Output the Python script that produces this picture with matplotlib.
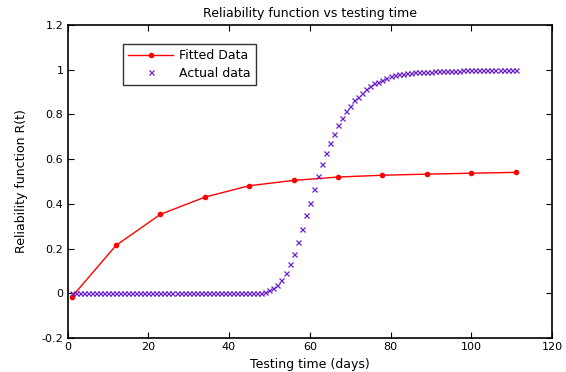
import matplotlib
matplotlib.use("Agg")
import matplotlib.pyplot as plt
import numpy as np

plt.rcParams['font.family'] = ['DejaVu Sans']

# Fitted data
fit_days = [1, 12, 23, 34, 45, 56, 67, 78, 89, 100, 111]
fit_vals = [-0.018, 0.214, 0.353, 0.430, 0.481, 0.505, 0.520, 0.528, 0.533, 0.537, 0.541]

# Actual data (one point per day, days 1..111)
act_days = list(range(1, 112))
act_early = [0.0] * 44 + [0.001, 0.001, 0.002]            # days 1..47
act_rise = [0.003, 0.007, 0.015, 0.022, 0.037, 0.058, 0.089, 0.130, 0.175,
            0.228, 0.286, 0.348, 0.404, 0.466, 0.525, 0.577, 0.626, 0.671,
            0.711, 0.751, 0.784, 0.815, 0.839, 0.863, 0.879, 0.897, 0.914,
            0.927, 0.939, 0.946, 0.955, 0.963, 0.970, 0.975, 0.981, 0.982,
            0.984]                                          # days 48..84
act_late = [0.986, 0.988, 0.989, 0.990, 0.991, 0.992, 0.993, 0.994, 0.994,
            0.995, 0.995, 0.996, 0.996, 0.997, 0.997, 0.997, 0.998, 0.998,
            0.998, 0.998, 0.999, 0.999, 0.999, 0.999, 0.999, 1.0, 1.0]   # days 85..111
act_vals = act_early + act_rise + act_late

fig = plt.figure(figsize=(5.66, 3.72), dpi=100)
ax = fig.add_axes([67.5/566, 34/372, (552-67.5)/566, (338-25)/372])

ax.plot(fit_days, fit_vals, color='#ff0000', lw=1.0, marker='o', ms=3.0,
        label='Fitted Data')
ax.plot(act_days, act_vals, linestyle='none', marker='x', color='#6a1fc8',
        ms=3.6, mew=0.9, label='Actual data')

ax.set_xlim(0, 120)
ax.set_ylim(-0.2, 1.2)
ax.set_xticks(np.arange(0, 121, 20))
ax.set_yticks([-0.2, 0, 0.2, 0.4, 0.6, 0.8, 1.0, 1.2])
ax.set_yticklabels(['-0.2', '0', '0.2', '0.4', '0.6', '0.8', '1', '1.2'])
ax.tick_params(direction='in', length=4, width=0.8, labelsize=8,
               top=True, right=True, colors='black', pad=3)
for s in ax.spines.values():
    s.set_linewidth(1.2)
    s.set_color('black')

ax.set_title('Reliability function vs testing time', fontsize=9, pad=6)
ax.set_xlabel('Testing time (days)', fontsize=9, labelpad=4)
ax.set_ylabel('Reliability function R(t)', fontsize=9, labelpad=10)

leg = ax.legend(loc='upper left', bbox_to_anchor=(0.115, 0.938), fontsize=9,
                frameon=True, fancybox=False, handlelength=3.6,
                borderpad=0.4, labelspacing=0.35, handletextpad=0.5,
                borderaxespad=0)
leg.get_frame().set_edgecolor('black')
leg.get_frame().set_linewidth(1.0)

fig.savefig('out.png', dpi=100)
